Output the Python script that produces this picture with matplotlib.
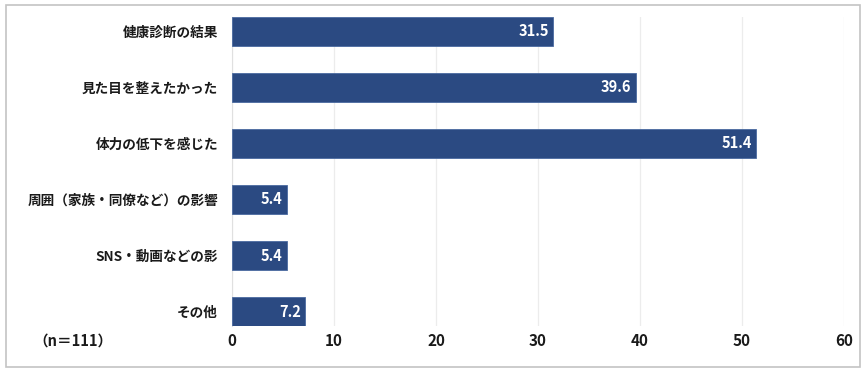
import matplotlib.pyplot as plt
from matplotlib.patches import Rectangle

plt.rcParams['font.family'] = ['Noto Sans CJK JP', 'DejaVu Sans']

categories = ['健康診断の結果', '見た目を整えたかった', '体力の低下を感じた',
              '周囲（家族・同僚など）の影響', 'SNS・動画などの影', 'その他']
values = [31.5, 39.6, 51.4, 5.4, 5.4, 7.2]
xticks = [0, 10, 20, 30, 40, 50, 60]
note = '（n＝111）'

bar_color = '#2b4a82'

fig = plt.figure(figsize=(8.67, 3.74), dpi=100)
ax = fig.add_axes([0.2676, 0.128, 0.7059, 0.827])

y = list(range(len(categories)))
ax.barh(y, values, height=0.52, color=bar_color, edgecolor='#4a6aa0', linewidth=0.6, zorder=3)

for yi, v in zip(y, values):
    ax.text(v - 0.45, yi, f'{v:.1f}', ha='right', va='center', color='white',
            fontsize=10.5, fontweight='bold', zorder=4)

ax.set_xlim(0, 60)
ax.set_ylim(5.26, -0.26)
ax.set_xticks(xticks)
ax.set_xticklabels([str(t) for t in xticks], fontsize=11, fontweight='bold', color='#1a1a1a')
ax.set_yticks(y)
ax.set_yticklabels(categories, fontsize=9.8, fontweight='bold', color='#1a1a1a')
ax.tick_params(axis='both', length=0)
ax.tick_params(axis='x', pad=5)
ax.tick_params(axis='y', pad=10)
ax.grid(axis='x', color='#ececec', linewidth=0.9, zorder=0)
for s in ['top', 'right', 'bottom']:
    ax.spines[s].set_visible(False)
ax.spines['left'].set_color('#e0e0e0')

fig.text(33 / 867, 1 - 341 / 374, note, ha='left', va='center', fontsize=10.5,
         fontweight='bold', color='#1a1a1a')

fig.patches.append(Rectangle((6 / 867, 7 / 374), 854 / 867, 362 / 374, transform=fig.transFigure,
                             fill=False, edgecolor='#c4c4c4', linewidth=1.2))

fig.savefig('out.png', dpi=100)
